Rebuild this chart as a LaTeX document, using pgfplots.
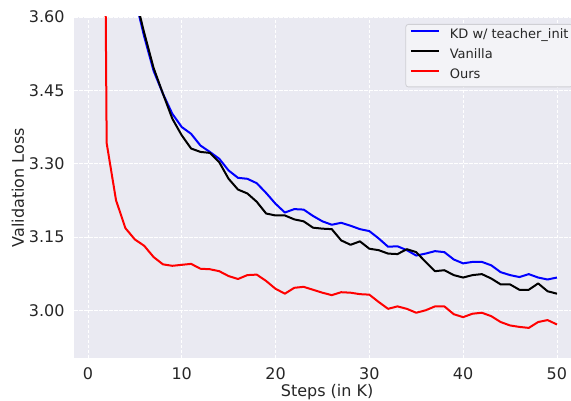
\documentclass[border=0pt]{standalone}
\usepackage{pgfplots}
\pgfplotsset{compat=1.18}
\usepackage{fontspec}
\setmainfont{DejaVu Sans}
\definecolor{bg}{HTML}{EAEAF2}
\definecolor{txt}{HTML}{262626}
\definecolor{legfill}{HTML}{F3F3F7}
\definecolor{legedge}{HTML}{CFCFD4}

\pgfplotstableread{
x kd vanilla ours
1 5.30 5.40 6.000
2 4.45 4.50 3.342
3 4.02 4.05 3.225
4 3.78 3.79 3.168
5 3.640 3.645 3.145
6 3.560 3.568 3.132
7 3.490 3.496 3.109
8 3.443 3.443 3.094
9 3.402 3.392 3.091
10 3.375 3.358 3.093
11 3.361 3.331 3.095
12 3.337 3.324 3.085
13 3.324 3.322 3.084
14 3.310 3.303 3.080
15 3.286 3.269 3.070
16 3.271 3.247 3.064
17 3.269 3.239 3.072
18 3.260 3.222 3.073
19 3.240 3.198 3.060
20 3.218 3.194 3.044
21 3.200 3.194 3.034
22 3.207 3.186 3.046
23 3.206 3.182 3.048
24 3.193 3.169 3.042
25 3.182 3.167 3.036
26 3.175 3.166 3.031
27 3.179 3.143 3.037
28 3.173 3.134 3.036
29 3.166 3.141 3.033
30 3.162 3.126 3.032
31 3.147 3.123 3.017
32 3.130 3.116 3.003
33 3.131 3.115 3.008
34 3.123 3.125 3.003
35 3.112 3.119 2.995
36 3.116 3.099 3.000
37 3.121 3.080 3.008
38 3.119 3.082 3.008
39 3.104 3.072 2.992
40 3.096 3.067 2.986
41 3.099 3.072 2.993
42 3.099 3.074 2.995
43 3.092 3.065 2.988
44 3.078 3.053 2.976
45 3.072 3.053 2.969
46 3.068 3.042 2.966
47 3.074 3.042 2.964
48 3.067 3.055 2.976
49 3.063 3.039 2.980
50 3.067 3.034 2.971
}\losstable

\begin{document}
\begin{tikzpicture}
\useasboundingbox (-74.3bp,-42.8bp) rectangle (496.7bp,358.2bp);
\begin{axis}[
  scale only axis,
  width=505.6bp, height=341.2bp,
  xmin=-1.45, xmax=52.45, ymin=2.902, ymax=3.6,
  axis background/.style={fill=bg},
  axis line style={draw=none},
  major tick length=0pt,
  xtick={0,10,20,30,40,50},
  ytick={3.00,3.15,3.30,3.45,3.60},
  grid=major,
  major grid style={white, line width=0.8bp, dash pattern=on 3.5bp off 1.5bp},
  /pgf/number format/assume math mode=true,
  tick label style={font=\fontsize{16bp}{19bp}\selectfont, text=txt, inner sep=0pt},
  yticklabel style={/pgf/number format/.cd, fixed, fixed zerofill, precision=2, /tikz/.cd, anchor=east, xshift=-9.5bp},
  xticklabel style={anchor=north, yshift=-9.7bp},
  xlabel={Steps (in K)},
  ylabel={Validation Loss},
  label style={font=\fontsize{16bp}{19bp}\selectfont, text=txt, inner sep=0pt},
  xlabel style={at={(axis description cs:0.5,-0.1128)}, anchor=base},
  ylabel style={at={(axis description cs:-0.0995,0.5)}, anchor=base},
  legend cell align=left,
  legend image code/.code={\draw[#1] (0bp,4.5bp) -- (28bp,4.5bp);},
  legend style={at={(axis description cs:1,1)}, anchor=north east, xshift=-7bp, yshift=-7bp,
    fill=legfill, draw=legedge, line width=0.8bp, rounded corners=2.5bp,
    font=\fontsize{13bp}{15bp}\selectfont, text=txt,
    inner xsep=4bp, inner ysep=5bp, row sep=7.5bp, column sep=10bp,
    nodes={inner sep=0pt, text height=9.5bp, text depth=3bp}},
]
\addplot[blue, line width=2bp, line join=round] table[x=x, y=kd] {\losstable};
\addlegendentry{KD w/ teacher\_init}
\addplot[black, line width=2bp, line join=round] table[x=x, y=vanilla] {\losstable};
\addlegendentry{Vanilla}
\addplot[red, line width=2bp, line join=round] table[x=x, y=ours] {\losstable};
\addlegendentry{Ours}
\end{axis}
\end{tikzpicture}
\end{document}
